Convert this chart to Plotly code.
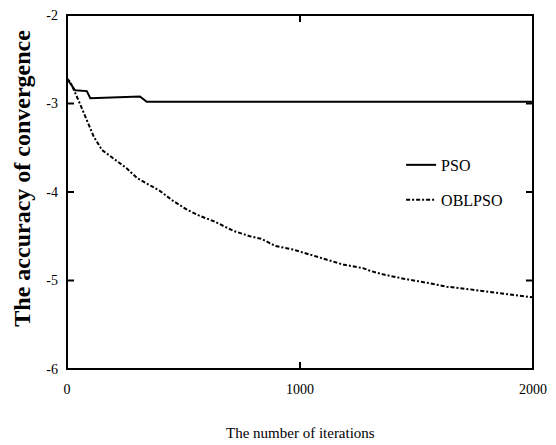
import plotly.graph_objects as go

# ---- data ----
pso_iter = [0, 35, 85, 100, 313, 342, 2000]
pso_acc = [-2.72, -2.85, -2.86, -2.94, -2.92, -2.98, -2.98]

obl_iter = [0, 15, 55, 115, 150, 200, 255, 300, 340, 400, 455, 515, 570, 630,
            715, 785, 835, 895, 970, 1045, 1115, 1185, 1270, 1300, 1355, 1445,
            1555, 1630, 1730, 1815, 1900, 2000]
obl_acc = [-2.72, -2.76, -3.00, -3.375, -3.525, -3.62, -3.73, -3.84, -3.90, -3.99,
           -4.10, -4.20, -4.27, -4.33, -4.44, -4.50, -4.53, -4.61, -4.65, -4.71,
           -4.77, -4.82, -4.86, -4.89, -4.93, -4.98, -5.03, -5.07, -5.10, -5.13,
           -5.16, -5.19]

x_ticks = [0, 1000, 2000]
x_ticklabels = ["0", "1000", "2000"]
y_ticks = [-6, -5, -4, -3, -2]
y_ticklabels = ["-6", "-5", "-4", "-3", "-2"]

FONT = "Liberation Serif"

fig = go.Figure()
fig.add_trace(go.Scatter(x=pso_iter, y=pso_acc, mode="lines", name="PSO",
                         legendgroup="a",
                         line=dict(color="black", width=2)))
fig.add_trace(go.Scatter(x=obl_iter, y=obl_acc, mode="lines", name="OBLPSO",
                         legendgroup="b",
                         line=dict(color="black", width=2, dash="4px,2px,2px,2px")))

axis_common = dict(showgrid=False, zeroline=False, showline=False, ticks="",
                   tickfont=dict(family=FONT, size=14, color="black"))

fig.update_xaxes(range=[0, 2000], tickmode="array", tickvals=x_ticks,
                 ticktext=x_ticklabels, ticklabelstandoff=10, **axis_common)
fig.update_yaxes(range=[-6, -2], tickmode="array", tickvals=y_ticks,
                 ticktext=y_ticklabels, ticklabelstandoff=8, **axis_common)

# plot frame
fig.add_shape(type="rect", xref="paper", yref="paper", x0=0, x1=1, y0=0, y1=1,
              line=dict(color="black", width=2), layer="above")
# inside tick marks on all four sides (positions taken from the tick arrays)
TLX = 7 / 466.0
TLY = 7 / 354.0
for v in x_ticks:
    fig.add_shape(type="line", xref="x", yref="paper", x0=v, x1=v, y0=0, y1=TLY,
                  line=dict(color="black", width=2), layer="above")
    fig.add_shape(type="line", xref="x", yref="paper", x0=v, x1=v, y0=1 - TLY, y1=1,
                  line=dict(color="black", width=2), layer="above")
for v in y_ticks:
    fig.add_shape(type="line", xref="paper", yref="y", x0=0, x1=TLX, y0=v, y1=v,
                  line=dict(color="black", width=2), layer="above")
    fig.add_shape(type="line", xref="paper", yref="y", x0=1 - TLX, x1=1, y0=v, y1=v,
                  line=dict(color="black", width=2), layer="above")

fig.add_annotation(text="<b>The accuracy of convergence</b>", textangle=-90,
                   xref="paper", yref="paper", x=-0.097, y=0.54,
                   xanchor="center", yanchor="middle", showarrow=False,
                   font=dict(family=FONT, size=24, color="black"))
fig.add_annotation(text="The number of iterations",
                   xref="paper", yref="paper", x=0.5, y=-0.181,
                   xanchor="center", yanchor="middle", showarrow=False,
                   font=dict(family=FONT, size=15, color="black"))

fig.update_layout(
    width=556, height=445,
    margin=dict(l=67, r=23, t=15, b=76, autoexpand=False),
    paper_bgcolor="white", plot_bgcolor="white",
    showlegend=True,
    legend=dict(x=0.717, y=0.527, xanchor="left", yanchor="middle",
                bgcolor="rgba(0,0,0,0)", tracegroupgap=11,
                traceorder="grouped",
                font=dict(family=FONT, size=16, color="black")),
)

fig.write_html("out.html", config={"displayModeBar": False},
               post_script="document.body.style.margin='0';")
